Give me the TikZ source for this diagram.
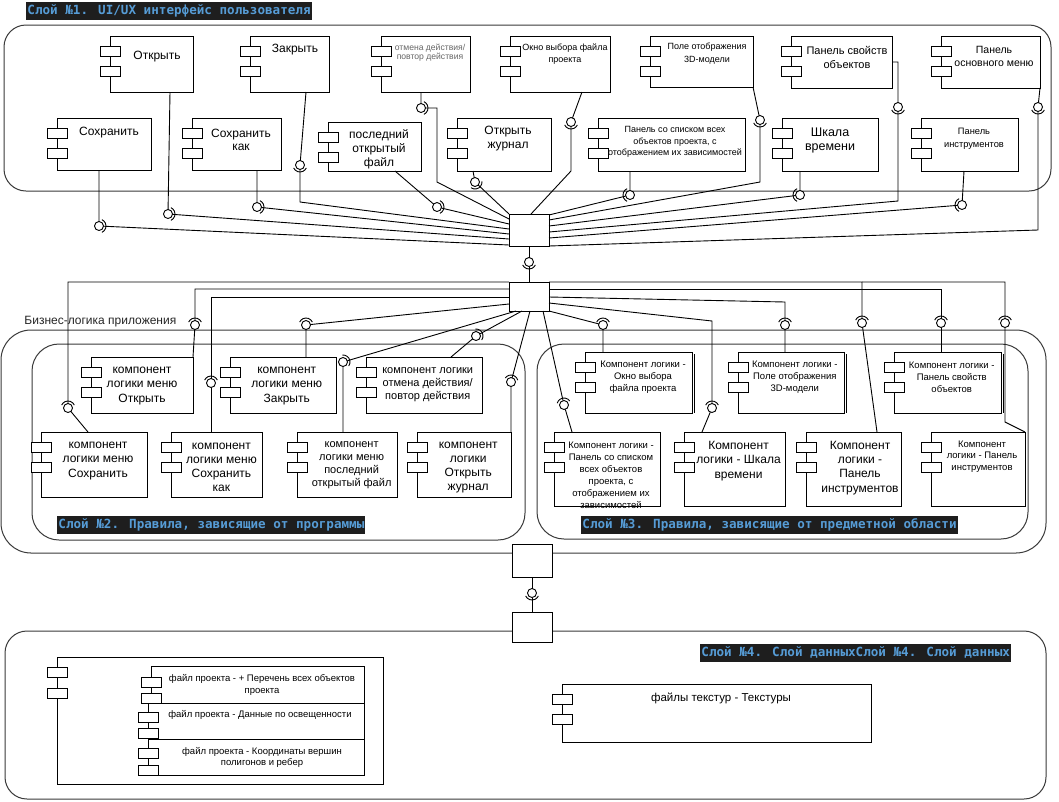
\documentclass[tikz,border=0pt]{standalone}
\usepackage{fontspec}
\setmainfont{Liberation Sans}
\newfontfamily\monofont{DejaVu Sans Mono}
\usetikzlibrary{calc}

\definecolor{codebg}{HTML}{1E1E1E}
\definecolor{codeblue}{HTML}{569CD6}
\definecolor{contline}{HTML}{3A3A3A}

\newcommand\fsz[2]{\fontsize{#1}{#2}\selectfont}

% component box with two port rectangles on its left edge
\newcommand\comp[7]{%
  \node[compbox, minimum width={(#4)-(#2)}, minimum height={(#5)-(#3)}]
    (#1) at ({((#2)+(#4))/2},{((#3)+(#5))/2}) {};
  \draw[portbox] ($(#1.north west)+(-10,#6)$) rectangle ++(20,10);
  \draw[portbox] ($(#1.north west)+(-10,#7)$) rectangle ++(20,10);
}
% ball-and-socket interface symbol
\newcommand\lolli[4]{%
  \node[ball] (#1) at (#2,#3) {};
  \draw ($(#1.center)+({#4-65}:7pt)$) arc[start angle={#4-65}, end angle={#4+65}, radius=7pt];
}

\begin{document}
\begin{tikzpicture}[x=1pt,y=-1pt,line width=0.9pt,
  compbox/.style={draw, fill=white, rectangle, inner sep=0pt, outer sep=0pt},
  portbox/.style={draw, fill=white},
  hubbox/.style={draw, fill=white, rectangle, inner sep=0pt, outer sep=0pt},
  ball/.style={circle, draw, fill=white, minimum size=9pt, inner sep=0pt, outer sep=0pt},
  cont/.style={draw=contline, line width=1pt},
  lbl/.style={inner sep=0pt, align=center, text=black},
  ttl/.style={fill=codebg, text=codeblue, font={\monofont\bfseries\fsz{12.6}{14}},
    inner xsep=1pt, inner ysep=0pt, minimum height=18pt, anchor=west}]

\useasboundingbox (0,0) rectangle (1059,801);
\fill[white] (0,0) rectangle (1059,801);

% ---- layer containers
\draw[cont, rounded corners=22pt] (4,25) rectangle (1051,191);
\draw[cont, rounded corners=30pt] (1,330) rectangle (1046,553);
\draw[cont, rounded corners=27pt] (32,344) rectangle (525,540);
\draw[cont, rounded corners=27pt] (537,344) rectangle (1028,539);
\draw[cont, rounded corners=22pt] (5,631) rectangle (1046,799);

% ---- hubs
\node[hubbox, minimum width=40pt, minimum height=32pt] (h1) at (529,230) {};
\node[hubbox, minimum width=40pt, minimum height=29pt] (h2) at (529,296.5) {};

% ---- interface symbols, UI layer
\lolli{lSave}{99}{226}{0}
\lolli{lOpen}{168}{214}{0}
\lolli{lSaveAs}{257}{207}{0}
\lolli{lClose}{300}{165}{270}
\lolli{lUndo}{421}{108}{0}
\lolli{lLast}{437}{207}{0}
\lolli{lLog}{475}{182}{300}
\lolli{lPick}{571}{122}{270}
\lolli{lList}{630}{195}{180}
\lolli{lView}{760}{120}{270}
\lolli{lTime}{800}{195}{180}
\lolli{lProps}{898}{107}{270}
\lolli{lTools}{962}{205}{180}
\lolli{lMenu}{1038}{107}{270}
\lolli{lH12}{529}{262}{270}

% ---- interface symbols, business logic
\lolli{mSave}{68}{408}{90}
\lolli{mOpen}{195}{325}{90}
\lolli{mSaveAs}{211}{383}{90}
\lolli{mClose}{306}{325}{90}
\lolli{mLast}{343}{362}{30}
\lolli{mUndo}{476}{336}{30}
\lolli{mLog}{511}{382}{80}
\lolli{mList}{564}{405}{100}
\lolli{mPick}{603}{325}{90}
\lolli{mTime}{712}{408}{90}
\lolli{mView}{785}{325}{90}
\lolli{mProps}{941}{323}{90}
\lolli{mTools}{862}{323}{90}
\lolli{mTools2}{1005}{323}{90}

% ---- components, UI layer
\comp{cOpen}{110}{36}{193}{92}{10}{30}
\comp{cClose}{250}{36}{329}{92}{10}{30}
\comp{cUndo}{381}{36}{470}{92}{10}{30}
\comp{cPick}{510}{36}{610}{92}{10}{30}
\comp{cView}{650}{36}{753}{87}{10}{30}
\comp{cProps}{791}{36}{892}{88}{10}{30}
\comp{cMenu}{941}{36}{1040}{88}{10}{30}
\comp{cSave}{57}{118}{151}{170}{10}{30}
\comp{cSaveAs}{192}{118}{281}{170}{10}{30}
\comp{cLast}{328}{122}{421}{171}{10}{30}
\comp{cLog}{457}{118}{551}{171}{10}{30}
\comp{cList}{598}{118}{745}{171}{10}{30}
\comp{cTime}{782}{118}{878}{171}{10}{30}
\comp{cTools}{921}{118}{1018}{171}{10}{30}

% ---- components, program rules
\comp{bOpen}{91}{357}{193}{413}{10}{30}
\comp{bClose}{230}{357}{336}{413}{10}{30}
\comp{bUndo}{366}{357}{482}{413}{10}{30}
\comp{bSave}{41}{432}{147}{497}{10}{30}
\comp{bSaveAs}{171}{432}{262}{497}{10}{30}
\comp{bLast}{297}{432}{397}{497}{10}{30}
\comp{bLog}{417}{432}{511}{497}{10}{30}

% ---- components, domain rules
\comp{dPick}{585}{352}{692}{413}{10}{30}
\comp{dView}{738}{352}{844}{413}{10}{30}
\comp{dProps}{894}{352}{1001}{413}{10}{30}
\foreach \d in {dPick,dView,dProps}
  \draw ($(\d.north east)+(2.2,2)$) -- ($(\d.south east)+(2.2,0)$);
\comp{dList}{554}{432}{660}{506}{10}{30}
\comp{dTime}{684}{432}{785}{506}{10}{30}
\comp{dTools}{806}{432}{901}{506}{10}{30}
\comp{dTools2}{931}{432}{1025}{506}{10}{30}

% ---- components, data layer
\comp{eFile}{57}{657}{383}{784}{10}{31}
\comp{eSub1}{151}{666}{364}{703}{11}{27}
\comp{eSub2}{148}{703}{364}{739}{9}{25}
\comp{eSub3}{148}{739}{364}{775}{9}{26}
\comp{eTex}{562}{684}{871}{742}{10}{30}

% ---- hubs between layers 2 and 4
\node[hubbox, minimum width=40pt, minimum height=33pt] (h3) at (532,560.5) {};
\node[hubbox, minimum width=40pt, minimum height=30pt] (h4) at (532,627) {};
\lolli{lH34}{532}{593}{270}

% ---- connectors: UI layer to hub 1
\draw (cSave.south -| lSave) -- (lSave) -- (h1.west |- 0,245);
\draw (cOpen.south -| 170,0) -- (lOpen) -- (h1.west |- 0,239);
\draw (cSaveAs.south -| lSaveAs) -- (lSaveAs) -- (h1.west |- 0,234);
\draw (cClose.south -| 306,0) -- (lClose) -- (300,202) -- (h1.west |- 0,229);
\draw (cUndo.south -| lUndo) -- (lUndo) -- (437,108) -- (437,182) -- (h1.west |- 0,219);
\draw (cLast.south -| 395,0) -- (lLast) -- (h1.west |- 0,224);
\draw (cLog.south -| 473,0) -- (lLog) -- (h1.north west);
\draw (cPick.south -| 582,0) -- (lPick) -- (571,171) -- (h1.north -| 531,0);
\draw (cList.south -| lList) -- (lList) -- (h1.east |- 0,215);
\draw (cView.south east) -- (lView) -- (760,182) -- (h1.east |- 0,220);
\draw (cTime.south -| lTime) -- (lTime) -- (h1.east |- 0,226);
\draw (cProps.east |- 0,62) -- (898,62) -- (lProps) -- (898,201) -- (h1.east |- 0,232);
\draw (cTools.south -| 964,0) -- (lTools) -- (h1.east |- 0,238);
\draw (cMenu.south east) -- (lMenu) -- (1038,230) -- (h1.south east);
\draw (h1.south -| lH12) -- (lH12) -- (h2.north -| lH12);

% ---- connectors: hub 2 to program rules
\draw (h2.north west) -- (68,282) -- (mSave) -- (bSave.north -| 88,0);
\draw (h2.west |- 0,289) -- (195,289) -- (mOpen) -- (bOpen.north east);
\draw (h2.west |- 0,297) -- (211,297) -- (mSaveAs) -- (bSaveAs.north -| mSaveAs);
\draw (h2.west |- 0,304) -- (mClose) -- (bClose.north -| mClose);
\draw (h2.south -| 516,0) -- (mLast) -- (bLast.north -| mLast);
\draw (h2.south -| 522,0) -- (mUndo) -- (bUndo.north -| 451,0);
\draw (h2.south -| 530,0) -- (mLog) -- (bLog.north east);

% ---- connectors: hub 2 to domain rules
\coordinate (j1) at (862,282);
\draw (h2.south -| 543,0) -- (mList) -- (dList.north -| 572,0);
\draw (h2.south east) -- (mPick) -- (dPick.north -| mPick);
\draw (h2.east |- 0,303) -- (712,321) -- (mTime) -- (dTime.north -| 702,0);
\draw (h2.east |- 0,297) -- (785,302) -- (mView) -- (dView.north -| mView);
\draw (h2.east |- 0,289) -- (941,289) -- (mProps) -- (dProps.north -| mProps);
\draw (h2.north east) -- (j1) -- (mTools) -- (dTools.north -| 877,0);
\draw (j1) -- (1005,282) -- (mTools2) -- (1005,422) -- (dTools2.north east);

% ---- hub 3 to hub 4
\draw (h3.south) -- (lH34) -- (h4.north);

% ---- texts, UI layer
\node[lbl, font={\fsz{12}{14}}] (tOpen) at (157,57) {Открыть};
\node[lbl, font={\fsz{12}{14}}] (tClose) at (295,50) {Закрыть};
\node[lbl, font={\fsz{8.6}{9.6}}, text=black!60] (tUndo) at (430,52.5) {отмена действия/\\повтор действия};
\node[lbl, font={\fsz{9}{12.3}}] (tPick) at (565,54) {Окно выбора файла\\проекта};
\node[lbl, font={\fsz{9}{13}}] (tView) at (707,54) {Поле отображения\\3D-модели};
\node[lbl, font={\fsz{11}{13.6}}] (tProps) at (847,57.5) {Панель свойств\\объектов};
\node[lbl, font={\fsz{10.5}{13.3}}] (tMenu) at (994,56.7) {Панель\\основного меню};
\node[lbl, font={\fsz{12}{14}}] (tSave) at (109,133) {Сохранить};
\node[lbl, font={\fsz{12}{13.7}}] (tSaveAs) at (241,140) {Сохранить\\как};
\node[lbl, font={\fsz{12}{14}}] (tLast) at (379,149) {последний\\открытый\\файл};
\node[lbl, font={\fsz{12}{14}}] (tLog) at (508,139) {Открыть\\журнал};
\node[lbl, font={\fsz{9}{11.8}}] (tList) at (675,142) {Панель со списком всех\\объектов проекта, с\\отображением их зависимостей};
\node[lbl, font={\fsz{12.5}{14.4}}] (tTime) at (830,140.5) {Шкала\\времени};
\node[lbl, font={\fsz{9.3}{13}}] (tTools) at (974,139) {Панель\\инструментов};

% ---- texts, program rules
\node[lbl, font={\fsz{12}{14.2}}] (uOpen) at (142,386) {компонент\\логики меню\\Открыть};
\node[lbl, font={\fsz{12}{14.2}}] (uClose) at (286.7,386) {компонент\\логики меню\\Закрыть};
\node[lbl, font={\fsz{11}{13}}] (uUndo) at (427.7,384.7) {компонент логики\\отмена действия/\\повтор действия};
\node[lbl, font={\fsz{12}{14.2}}] (uSave) at (98,461) {компонент\\логики меню\\Сохранить};
\node[lbl, font={\fsz{12}{13.9}}] (uSaveAs) at (221.4,467.5) {компонент\\логики меню\\Сохранить\\как};
\node[lbl, font={\fsz{11}{13}}] (uLast) at (351.6,465.5) {компонент\\логики меню\\последний\\открытый файл};
\node[lbl, font={\fsz{12}{13.9}}] (uLog) at (468.2,467.5) {компонент\\логики\\Открыть\\журнал};

% ---- texts, domain rules
\node[lbl, font={\fsz{9.5}{12.2}}] (vPick) at (643,377) {Компонент логики -\\Окно выбора\\файла проекта};
\node[lbl, font={\fsz{9.5}{12.2}}] (vView) at (794.8,377) {Компонент логики -\\Поле отображения\\3D-модели};
\node[lbl, font={\fsz{9.5}{12.2}}] (vProps) at (951.7,377) {Компонент логики -\\Панель свойств\\объектов};
\node[lbl, font={\fsz{9.5}{12}}] (vList) at (611,475.7) {Компонент логики -\\Панель со списком\\всех объектов\\проекта, с\\отображением их\\зависимостей};
\node[lbl, font={\fsz{12}{14.2}}] (vTime) at (738.5,461) {Компонент\\логики - Шкала\\времени};
\node[lbl, font={\fsz{12}{14.2}}] (vTools) at (860,468) {Компонент\\логики -\\Панель\\инструментов};
\node[lbl, font={\fsz{9.5}{11.7}}] (vTools2) at (982,456.7) {Компонент\\логики - Панель\\инструментов};

% ---- texts, data layer
\node[lbl, font={\fsz{9.5}{12}}] (wSub1) at (262,685) {файл проекта - + Перечень всех объектов\\проекта};
\node[lbl, font={\fsz{9.5}{12}}] (wSub2) at (260,715) {файл проекта - Данные по освещенности};
\node[lbl, font={\fsz{9.5}{11}}] (wSub3) at (262,757.5) {файл проекта - Координаты вершин\\полигонов и ребер};
\node[lbl, font={\fsz{11.5}{13}}] (wTex) at (721,698) {файлы текстур - Текстуры};

% ---- captions
\node[lbl, anchor=west, font={\fsz{12}{14}}, text=black!85] (biz) at (24,322) {Бизнес-логика приложения};
\node[ttl] (T1) at (26,11) {Слой №1. UI/UX интерфейс пользователя};
\node[ttl] (T2) at (57,525) {Слой №2. Правила, зависящие от программы};
\node[ttl] (T3) at (581,525) {Слой №3. Правила, зависящие от предметной области};
\node[ttl] (T4) at (700,652.5) {Слой №4. Слой данныхСлой №4. Слой данных};

\end{tikzpicture}
\end{document}
